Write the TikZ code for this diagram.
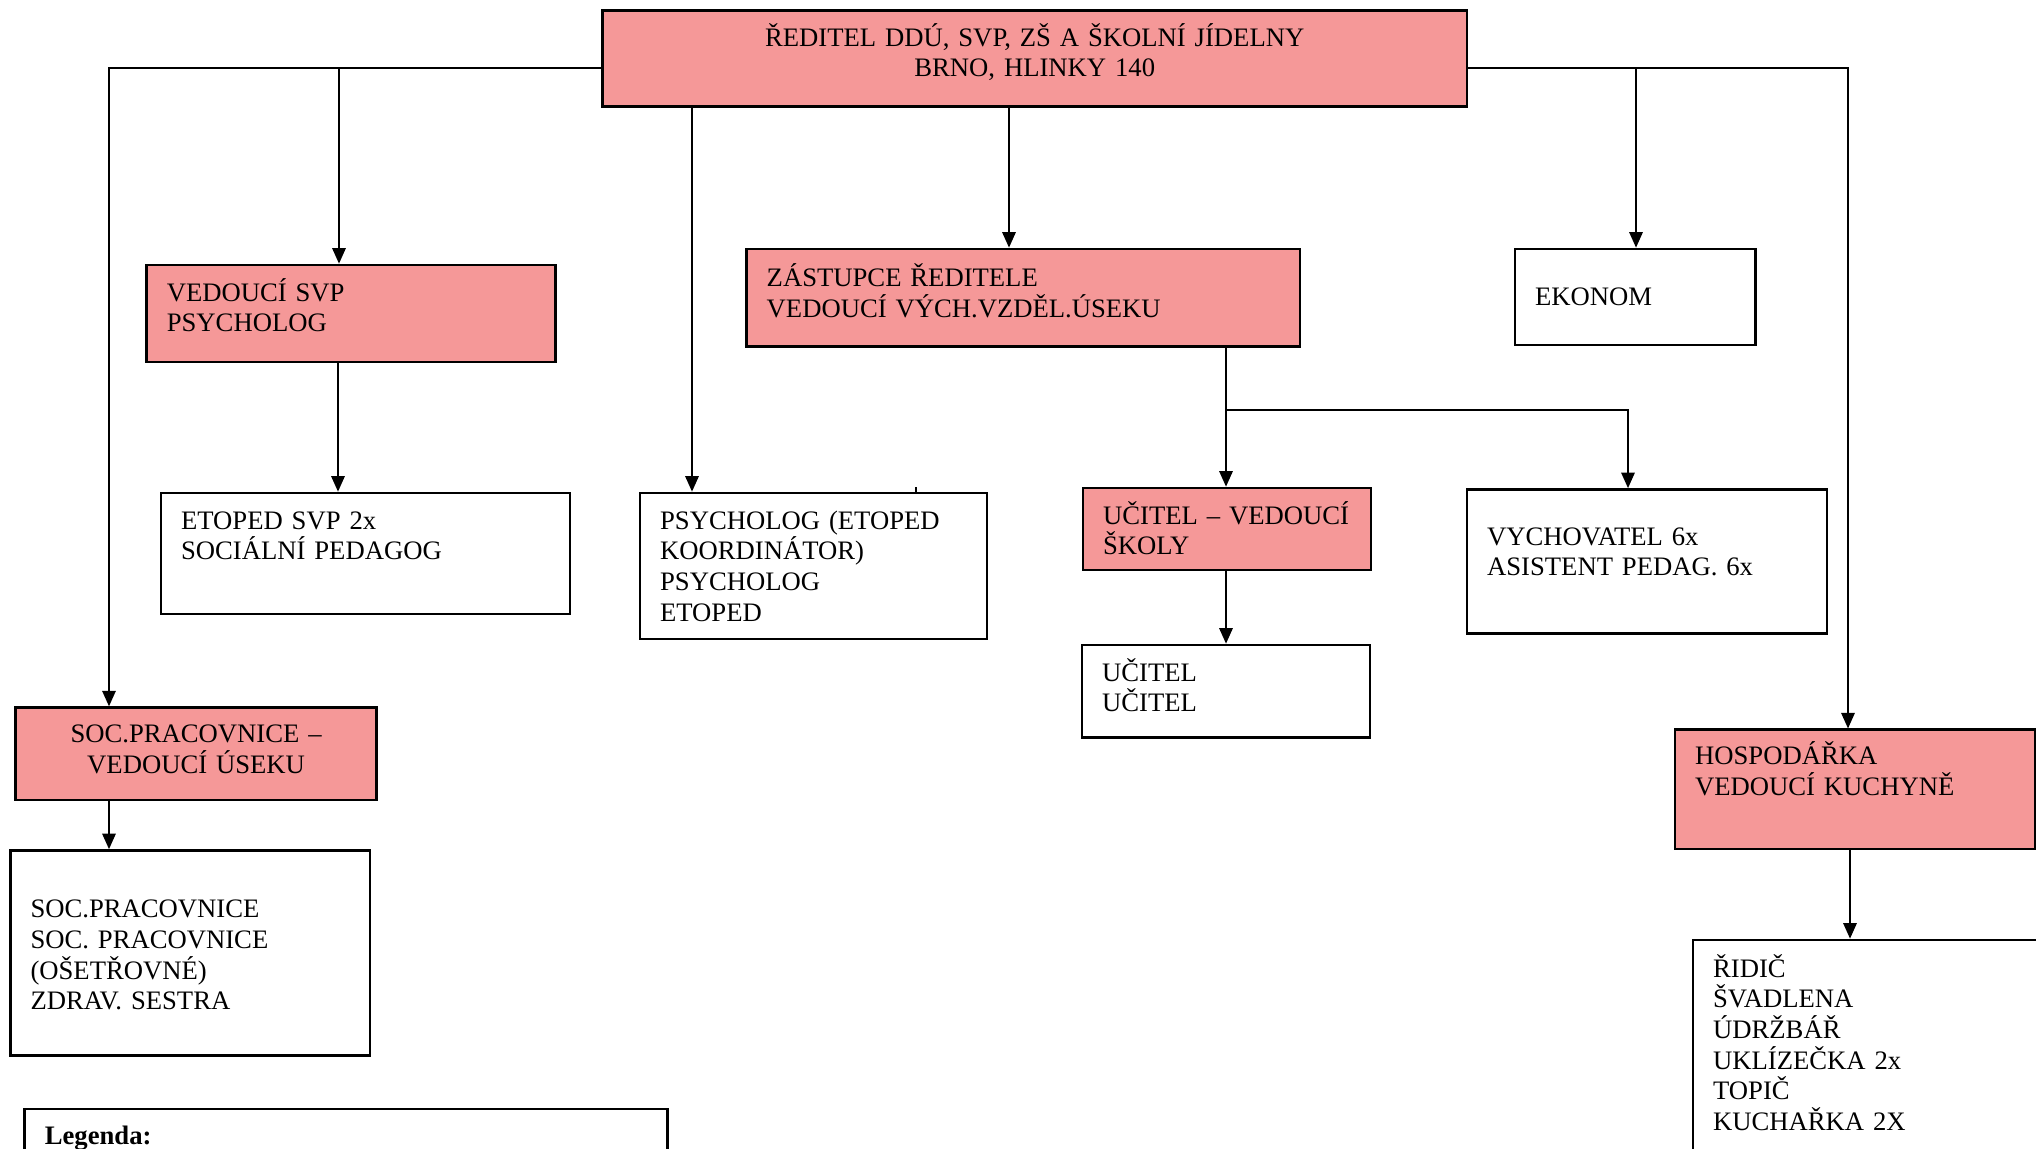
\documentclass[tikz,border=0pt]{standalone}
\usepackage{fontspec}
\setmainfont{Liberation Serif}
\usetikzlibrary{arrows.meta,positioning,calc,fit}
\definecolor{ddupink}{RGB}{245,152,152}
\tikzstyle{arrow} = [line width=0.9pt,-{Triangle[length=7pt,width=6pt]}]
\tikzstyle{box} = [draw, line width=1.2pt, inner sep=0pt]
\tikzstyle{redbox} = [box, fill=ddupink]
\tikzstyle{txt} = [inner sep=0pt, anchor=base west, align=left, text width=300pt, font=\fontsize{12}{13.8}\selectfont]

\begin{document}
\begin{tikzpicture}[x=0.45pt, y=-0.45pt]
\useasboundingbox (0,0) rectangle (2036,1148);
\clip (0,0) rectangle (2036,1148);

% Boxes
\node[redbox, fit={(602.5,10.4) (1467,106.5)}] (dir) {};
\node[redbox, fit={(146.7,265) (555.8,362)}] (svp) {};
\node[box, fit={(161,493) (570,614)}] (etoped) {};
\node[box, fit={(640,493) (987,639)}] (psy) {};
\node[redbox, fit={(746.6,249) (1300,346.7)}] (zast) {};
\node[box, fit={(1515,249) (1755.6,345)}] (ekonom) {};
\node[redbox, fit={(1083,488) (1371,570)}] (ucved) {};
\node[box, fit={(1082,645) (1370,737.6)}] (ucitel) {};
\node[box, fit={(1467,489.5) (1827,633.7)}] (vych) {};
\node[redbox, fit={(15.6,707.7) (376.6,800)}] (socved) {};
\node[box, fit={(10.4,850.5) (370,1055.7)}] (soc) {};
\node[redbox, fit={(1675,729.8) (2035,849)}] (hosp) {};
\node[box, fit={(1693,940) (2100,1200)}] (ridic) {};
\node[box, fit={(24.7,1109) (667.4,1200)}] (legend) {};

% Texts
\node[txt, anchor=base, align=center, text width=380pt] (dirT) at ($(dir.north)+(0,37)$)
  {ŘEDITEL DDÚ, SVP, ZŠ A ŠKOLNÍ JÍDELNY\\BRNO, HLINKY 140};
\node[txt] (svpT) at ($(svp.north west)+(21,37.6)$) {VEDOUCÍ SVP\\PSYCHOLOG};
\node[txt] (etopedT) at ($(etoped.north west)+(21,37.6)$) {ETOPED SVP 2x\\SOCIÁLNÍ PEDAGOG};
\node[txt] (psyT) at ($(psy.north west)+(21,37.6)$)
  {PSYCHOLOG (ETOPED\\KOORDINÁTOR)\\PSYCHOLOG\\ETOPED};
\node[txt] (zastT) at ($(zast.north west)+(21,39)$)
  {ZÁSTUPCE ŘEDITELE\\VEDOUCÍ VÝCH.VZDĚL.ÚSEKU};
\node[txt] (ekonomT) at ($(ekonom.north west)+(21,57.6)$) {EKONOM};
\node[txt] (ucvedT) at ($(ucved.north west)+(21,37.6)$) {UČITEL – VEDOUCÍ\\ŠKOLY};
\node[txt] (ucitelT) at ($(ucitel.north west)+(21,37.6)$) {UČITEL\\UČITEL};
\node[txt] (vychT) at ($(vych.north west)+(21,57)$) {VYCHOVATEL 6x\\ASISTENT PEDAG. 6x};
\node[txt, anchor=base, align=center, text width=160pt] (socvedT) at ($(socved.north)+(0,36)$)
  {SOC.PRACOVNICE –\\VEDOUCÍ ÚSEKU};
\node[txt] (socT) at ($(soc.north west)+(21,68.6)$)
  {SOC.PRACOVNICE\\SOC. PRACOVNICE\\(OŠETŘOVNÉ)\\ZDRAV. SESTRA};
\node[txt] (hospT) at ($(hosp.north west)+(21,36)$) {HOSPODÁŘKA\\VEDOUCÍ KUCHYNĚ};
\node[txt] (ridicT) at ($(ridic.north west)+(21,38.6)$)
  {ŘIDIČ\\ŠVADLENA\\ÚDRŽBÁŘ\\UKLÍZEČKA 2x\\TOPIČ\\KUCHAŘKA 2X};
\node[txt] (legendT) at ($(legend.north west)+(21,37)$) {\textbf{Legenda:}};

% Connector positions
\coordinate (bus) at (0,67.5);
\coordinate (bus2) at (0,410);
\coordinate (xSoc) at (109,0);
\coordinate (xSvp) at (339,0);
\coordinate (xEtop) at (338,0);
\coordinate (xPsy) at (692,0);
\coordinate (xTick) at (915.5,0);
\coordinate (xZast) at (1009,0);
\coordinate (xUc) at (1226,0);
\coordinate (xVych) at (1628,0);
\coordinate (xEko) at (1636,0);
\coordinate (xHosp) at (1848,0);
\coordinate (xRid) at (1850,0);

% Connectors
\draw[arrow] (dir.west |- bus) -| (xSoc |- socved.north);
\draw[arrow] (xSvp |- bus) -- (xSvp |- svp.north);
\draw[arrow] (dir.east |- bus) -| (xHosp |- hosp.north);
\draw[arrow] (xEko |- bus) -- (xEko |- ekonom.north);
\draw[arrow] (xPsy |- dir.south) -- (xPsy |- psy.north);
\draw[arrow] (xZast |- dir.south) -- (xZast |- zast.north);
\draw[arrow] (xEtop |- svp.south) -- (xEtop |- etoped.north);
\draw[arrow] (xUc |- zast.south) -- (xUc |- ucved.north);
\draw[arrow] (xUc |- bus2) -| (xVych |- vych.north);
\draw[arrow] (xUc |- ucved.south) -- (xUc |- ucitel.north);
\draw[arrow] (xSoc |- socved.south) -- (xSoc |- soc.north);
\draw[arrow] (xRid |- hosp.south) -- (xRid |- ridic.north);
\draw[line width=0.9pt] (xTick |- psy.north) -- ++(0,-5);
\end{tikzpicture}
\end{document}
